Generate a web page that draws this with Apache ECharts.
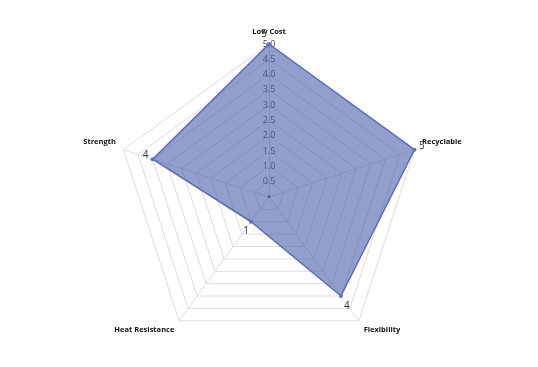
<!DOCTYPE html>
<html>
<head>
<meta charset="utf-8">
<script src="https://cdn.jsdelivr.net/npm/echarts@6/dist/echarts.min.js"></script>
<style>html,body{margin:0;padding:0;background:#fff}#c{width:538px;height:367px}</style>
</head>
<body>
<div id="c"></div>
<script>
// order is clockwise starting at top: Low Cost, Recyclable, Flexibility, Heat Resistance, Strength
// ECharts radar runs counter-clockwise, so the arrays are listed in that drawing order
const indicators = ['Low Cost', 'Strength', 'Heat Resistance', 'Flexibility', 'Recyclable'];
const values = [5, 4, 1, 4, 5];
const maxValue = 5;
const labelOffsets = [[-5, 0], [-7, 5], [-5, 0], [6, 1], [0, -4]];
const labelPositions = ['top', 'top', 'bottom', 'bottom', 'right'];
const nameStyles = ['n', 'up', 'down', 'down', 'up'];

const chart = echarts.init(document.getElementById('c'));
const labelItems = indicators.map((n, i) => ({
  value: values,
  symbol: 'circle',
  symbolSize: 1,
  itemStyle: { color: 'rgba(0,0,0,0)', borderWidth: 0 },
  lineStyle: { color: 'rgba(0,0,0,0)', width: 0 },
  label: {
    show: true,
    position: labelPositions[i],
    offset: labelOffsets[i],
    distance: 4,
    color: '#333',
    fontSize: 10,
    fontFamily: 'Open Sans',
    formatter: p => (p.dimensionIndex === i ? String(values[i]) : '')
  }
}));
const nameFont = { color: '#111', fontSize: 7.5, fontWeight: 'bold', fontFamily: 'Open Sans' };
chart.setOption({
  animation: false,
  radar: {
    center: [269, 197],
    radius: 153,
    startAngle: 90,
    shape: 'polygon',
    splitNumber: 10,
    nameGap: 8,
    axisName: {
      color: '#111', fontSize: 7.5, fontWeight: 'bold', fontFamily: 'Open Sans',
      formatter: (name) => '{' + nameStyles[indicators.indexOf(name)] + '|' + name + '}',
      rich: {
        n: Object.assign({}, nameFont),
        up: Object.assign({ padding: [0, 0, 10, 0] }, nameFont),
        down: Object.assign({ padding: [5, 0, 0, 0] }, nameFont)
      }
    },
    splitLine: { lineStyle: { color: '#dcdcdc', width: 1 } },
    splitArea: { show: false },
    axisLine: { lineStyle: { color: '#dcdcdc' } },
    axisLabel: { show: false },
    indicator: indicators.map((n, i) => {
      const o = { name: n, min: 0, max: maxValue };
      if (i === 0) {
        o.axisLabel = {
          show: true, margin: 0, align: 'center', verticalAlign: 'middle',
          color: '#444', fontSize: 9, fontFamily: 'Open Sans',
          formatter: v => (v === 0 ? '{d|•}' : v.toFixed(1)),
          rich: { d: { fontSize: 13, color: '#3a4c88', fontFamily: 'Open Sans' } }
        };
      }
      return o;
    })
  },
  series: [{
    type: 'radar',
    symbol: 'circle',
    symbolSize: 4,
    itemStyle: { color: '#6274b6' },
    lineStyle: { color: '#6274b6', width: 1.5 },
    areaStyle: { color: '#4a5eaa', opacity: 0.6 },
    data: [{ value: values }]
  }, {
    type: 'radar',
    silent: true,
    z: 5,
    data: labelItems
  }]
});
</script>
</body>
</html>
